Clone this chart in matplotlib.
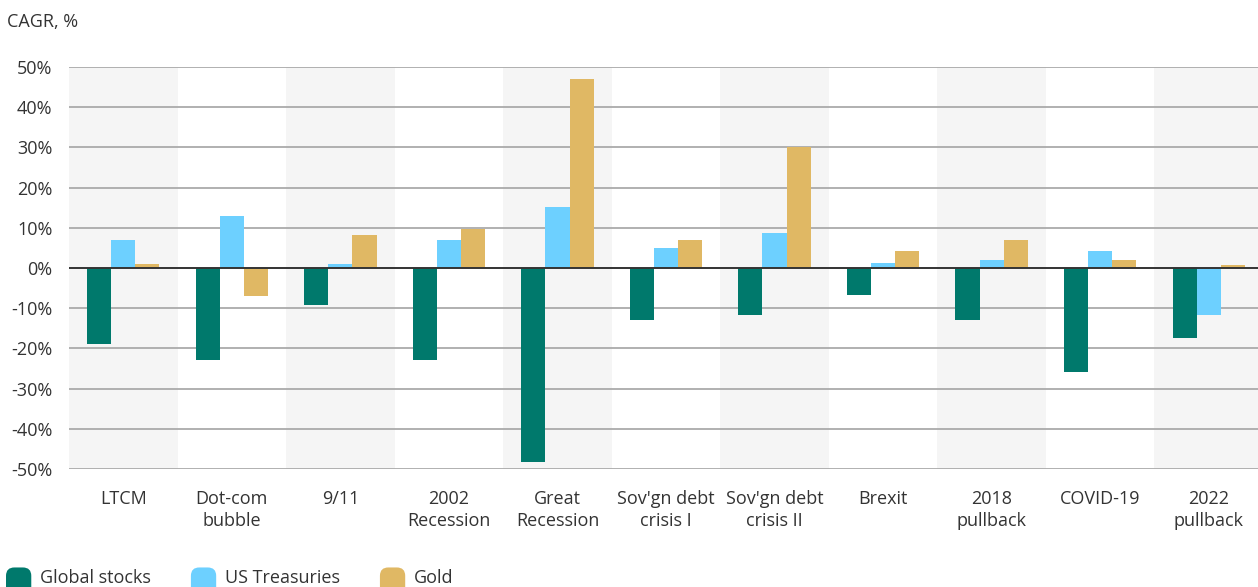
import matplotlib
matplotlib.use("Agg")
import matplotlib.pyplot as plt
from matplotlib.legend_handler import HandlerPatch
from matplotlib.patches import FancyBboxPatch
import numpy as np

# CAGR during each drawdown episode, %
categories = ["LTCM", "Dot-com\nbubble", "9/11", "2002\nRecession", "Great\nRecession",
              "Sov'gn debt\ncrisis I", "Sov'gn debt\ncrisis II", "Brexit", "2018\npullback",
              "COVID-19", "2022\npullback"]
global_stocks = [-19, -23, -9.3, -23, -48.2, -13, -11.6, -6.6, -13, -25.8, -17.3]
us_treasuries = [7, 13, 1, 7, 15.2, 5, 8.8, 1.2, 2, 4.3, -11.8]
gold = [1, -7, 8.2, 9.8, 47, 7, 30, 4.3, 7, 2, 0.8]
series_names = ["Global stocks", "US Treasuries", "Gold"]
colors = ["#00796c", "#6dd0ff", "#e0b864"]
yticks = [-50, -40, -30, -20, -10, 0, 10, 20, 30, 40, 50]

plt.rcParams['font.family'] = ['Open Sans', 'DejaVu Sans']
txt = "#333333"
fs = 13


class RoundHandler(HandlerPatch):
    # legend swatch with rounded top, running off the bottom edge like the original
    def create_artists(self, legend, orig_handle, xdescent, ydescent, width, height, fontsize, trans):
        extra = 12
        p = FancyBboxPatch((-xdescent, -ydescent - extra), width, height + extra,
                           boxstyle="round,pad=0,rounding_size=6",
                           facecolor=orig_handle.get_facecolor(), edgecolor="none", transform=trans)
        return [p]


fig = plt.figure(figsize=(12.58, 5.87), dpi=100)
ax = fig.add_axes([69 / 1258, 1 - 469 / 587, (1263 - 69) / 1258, 402 / 587])

n = len(categories)
x = np.arange(n)
w = 0.222

# alternating background bands
for i in range(0, n, 2):
    ax.axvspan(i - 0.5, i + 0.5, color="#f5f5f5", zorder=0, lw=0)

for v in yticks:
    if v != 0:
        ax.axhline(v, color="#b0b0b0", lw=1.4, zorder=1)

bars = []
for k, (vals, name) in enumerate(zip([global_stocks, us_treasuries, gold], series_names)):
    b = ax.bar(x + (k - 1) * w, vals, width=w, color=colors[k], label=name, zorder=2)
    bars.append(b)

ax.axhline(0, color="#333333", lw=1.4, zorder=3)

ax.set_xlim(-0.5, n - 0.5)
ax.set_ylim(-50, 50)
ax.set_yticks(yticks)
ax.set_yticklabels([f"{v}%" for v in yticks], fontsize=fs, color=txt)
ax.set_xticks(x)
ax.set_xticklabels(categories, fontsize=fs, color=txt, linespacing=1.3)
ax.tick_params(axis="both", length=0)
ax.tick_params(axis="x", pad=15)
ax.tick_params(axis="y", pad=12)
for s in ax.spines.values():
    s.set_visible(False)

fig.text(7 / 1258, 1 - 22 / 587, "CAGR, %", fontsize=fs, color=txt, va="center", ha="left")

handles = [b.patches[0] for b in bars]
leg = fig.legend(handles, series_names, loc="center left", bbox_to_anchor=(6 / 1258, 1 - 577 / 587), ncol=3,
                 frameon=False, fontsize=fs, handlelength=1.4, handleheight=1.15,
                 columnspacing=2.2, handletextpad=0.5, borderpad=0.0, borderaxespad=0.0,
                 handler_map={matplotlib.patches.Rectangle: RoundHandler()})
for t in leg.get_texts():
    t.set_color(txt)

fig.savefig("out.png", dpi=100)
